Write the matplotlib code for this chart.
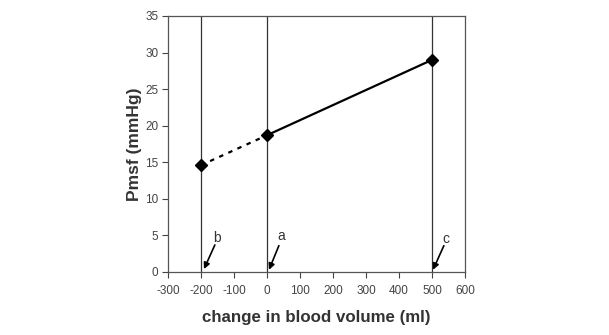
import matplotlib.pyplot as plt

plt.rcParams['font.family'] = ['Liberation Sans', 'DejaVu Sans']
plt.rcParams['axes.unicode_minus'] = False

# data
volume = [-200, 0, 500]
pmsf = [14.6, 18.7, 29.0]
markers_x = [-200, 0, 500]
labels = ['b', 'a', 'c']
label_pos = [(-151, 4.6), (42, 4.9), (542, 4.5)]
arrow_start = [(-158, 3.7), (36, 3.6), (536, 3.6)]
arrow_end = [(-191, 0.4), (6, 0.3), (503, 0.3)]

fig = plt.figure(figsize=(6.09, 3.35), dpi=100)
ax = fig.add_axes([168 / 609, 1 - 272 / 335, 297 / 609, 256 / 335])

for v in markers_x:
    ax.axvline(v, color='#333333', lw=0.9, zorder=1)

ax.plot(volume[:2], pmsf[:2], color='black', lw=1.6, ls=(0, (2, 2.5)), zorder=2)
ax.plot(volume[1:], pmsf[1:], color='black', lw=1.6, zorder=2)
ax.plot(volume, pmsf, ls='none', marker='D', ms=6, color='black', zorder=3)

for lab, pos, s, e in zip(labels, label_pos, arrow_start, arrow_end):
    ax.text(pos[0], pos[1], lab, ha='center', va='center', fontsize=10, color='#333333')
    ax.annotate('', xy=e, xytext=s,
                arrowprops=dict(arrowstyle='-|>', color='black', lw=1.2,
                                mutation_scale=9, shrinkA=0, shrinkB=0))

ax.set_xlim(-300, 600)
ax.set_ylim(0, 35)
ax.set_xticks(range(-300, 601, 100))
ax.set_yticks(range(0, 36, 5))
ax.tick_params(labelsize=8.5, colors='#444444', length=4, width=0.8, direction='out')
ax.tick_params(axis='x', pad=5)
ax.tick_params(axis='y', pad=3)
for sp in ax.spines.values():
    sp.set_color('#555555')
    sp.set_linewidth(0.9)

ax.set_xlabel('change in blood volume (ml)', fontsize=12.2, fontweight='bold', color='#333333', labelpad=10)
ax.set_ylabel('Pmsf (mmHg)', fontsize=12.5, fontweight='bold', color='#333333', labelpad=2)

plt.savefig('out.png', dpi=100)
